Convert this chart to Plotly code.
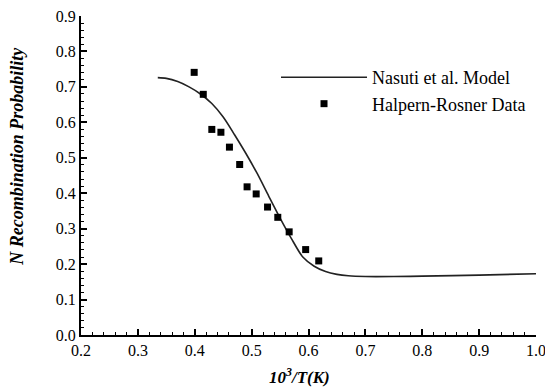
import plotly.graph_objects as go

# Nasuti et al. model curve
model_x = [0.335, 0.35, 0.37, 0.39, 0.41, 0.43, 0.45, 0.47, 0.49, 0.51, 0.53, 0.55, 0.57,
           0.59, 0.61, 0.63, 0.65, 0.67, 0.70, 0.75, 0.80, 0.90, 1.00]
model_y = [0.726, 0.724, 0.715, 0.700, 0.680, 0.653, 0.615, 0.565, 0.512, 0.455, 0.392, 0.330,
           0.272, 0.220, 0.194, 0.179, 0.171, 0.167, 0.165, 0.165, 0.166, 0.169, 0.173]

# Halpern-Rosner data
data_x = [0.399, 0.415, 0.430, 0.446, 0.461, 0.479, 0.492, 0.508, 0.528, 0.546, 0.566, 0.595, 0.618]
data_y = [0.741, 0.679, 0.580, 0.572, 0.530, 0.481, 0.418, 0.398, 0.361, 0.332, 0.291, 0.241, 0.209]

x_ticks = [0.2, 0.3, 0.4, 0.5, 0.6, 0.7, 0.8, 0.9, 1.0]
y_ticks = [0.0, 0.1, 0.2, 0.3, 0.4, 0.5, 0.6, 0.7, 0.8, 0.9]

serif = "Liberation Serif"

fig = go.Figure()
fig.add_trace(go.Scatter(x=model_x, y=model_y, mode="lines",
                         line=dict(color="#222222", width=1.6, shape="spline", smoothing=0.8),
                         name="Nasuti et al. Model"))
fig.add_trace(go.Scatter(x=data_x, y=data_y, mode="markers",
                         marker=dict(symbol="square", size=7, color="black"),
                         name="Halpern-Rosner Data"))

axis_common = dict(showline=True, linecolor="black", linewidth=2, ticks="inside", ticklen=6,
                   tickwidth=1.5, tickcolor="black", showgrid=False, zeroline=False, mirror=False,
                   automargin=False, ticklabeloverflow="allow",
                   tickfont=dict(family=serif, size=16, color="black"), tickformat=".1f")

fig.update_xaxes(range=[0.2, 1.0], tickvals=x_ticks,
                 minor=dict(ticks="inside", dtick=0.02, ticklen=3, tickcolor="black", tickwidth=1.2),
                 **axis_common)
fig.update_yaxes(range=[0, 0.9], tickvals=y_ticks,
                 minor=dict(ticks="inside", dtick=0.02, ticklen=3, tickcolor="black", tickwidth=1.2),
                 **axis_common)

fig.add_annotation(text="<b><i>N Recombination Probability</i></b>", xref="paper", yref="paper",
                   x=-0.14, y=0.56, textangle=-90, showarrow=False,
                   font=dict(family=serif, size=18, color="black"), xanchor="center", yanchor="middle")
fig.add_annotation(text="<b><i>10<sup>3</sup>/T(K)</i></b>", xref="paper", yref="paper",
                   x=0.48, y=-0.13, showarrow=False,
                   font=dict(family=serif, size=17, color="black"), xanchor="center", yanchor="middle")

fig.update_layout(width=545, height=392, margin=dict(l=81, r=9, t=16, b=57, autoexpand=False),
                  plot_bgcolor="white", paper_bgcolor="white",
                  font=dict(family=serif, color="black"),
                  legend=dict(x=0.4286, y=0.865, xanchor="left", yanchor="top", bgcolor="rgba(0,0,0,0)",
                              font=dict(family=serif, size=18, color="black"), tracegroupgap=0,
                              itemwidth=86),
                  showlegend=True)

fig.write_html("out.html", config={"displayModeBar": False},
               post_script="document.body.style.margin='0';document.body.style.overflow='hidden';")
